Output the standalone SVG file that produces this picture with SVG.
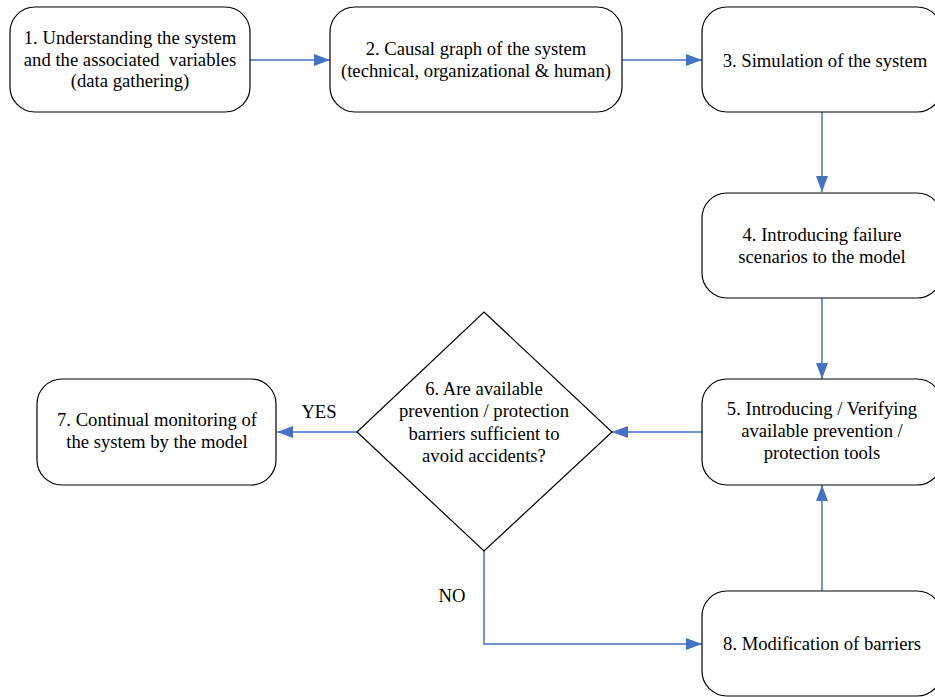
<svg xmlns="http://www.w3.org/2000/svg" width="935" height="697" viewBox="0 0 935 697">
<defs>
<style>
.box{fill:#fff;stroke:#000;stroke-width:1.2}
.t{font-family:'Liberation Serif',Tinos,'Times New Roman','DejaVu Serif',serif;font-size:18.67px;fill:#000;text-anchor:middle}
.c{fill:none;stroke:#4472C4;stroke-width:1.5}
</style>
<marker id="ah" markerUnits="userSpaceOnUse" markerWidth="17" markerHeight="12" refX="16" refY="6" orient="auto">
<path d="M0,0 L16,6 L0,12 z" fill="#4472C4"/>
</marker>
</defs>
<rect width="935" height="697" fill="#fff"/>
<g id="connectors">
<path class="c" d="M250,60 H330" marker-end="url(#ah)"/>
<path class="c" d="M622,60 H702" marker-end="url(#ah)"/>
<path class="c" d="M822,112 V192" marker-end="url(#ah)"/>
<path class="c" d="M822,298 V379" marker-end="url(#ah)"/>
<path class="c" d="M702,432 H612" marker-end="url(#ah)"/>
<path class="c" d="M357,432 H277" marker-end="url(#ah)"/>
<path class="c" d="M484,551 V644 H702" marker-end="url(#ah)"/>
<path class="c" d="M822,591 V485" marker-end="url(#ah)"/>
<text class="t" x="319" y="418">YES</text>
<text class="t" x="452" y="602">NO</text>
</g>
<g id="node1">
<rect class="box" x="10" y="7" width="240" height="105" rx="25"/>
<text class="t" x="130" y="44">1. Understanding the system</text>
<text class="t" x="130" y="66">and the associated&#160; variables</text>
<text class="t" x="130" y="87">(data gathering)</text>
</g>
<g id="node2">
<rect class="box" x="330" y="7" width="292" height="105" rx="25"/>
<text class="t" x="476" y="55">2. Causal graph of the system</text>
<text class="t" x="476" y="77">(technical, organizational &amp; human)</text>
</g>
<g id="node3">
<rect class="box" x="702" y="7" width="240" height="105" rx="25"/>
<text class="t" x="825" y="67">3. Simulation of the system</text>
</g>
<g id="node4">
<rect class="box" x="702" y="193" width="240" height="105" rx="25"/>
<text class="t" x="822" y="241">4. Introducing failure</text>
<text class="t" x="822" y="263">scenarios to the model</text>
</g>
<g id="node5">
<rect class="box" x="702" y="379" width="240" height="106" rx="25"/>
<text class="t" x="822" y="415">5. Introducing / Verifying</text>
<text class="t" x="822" y="437">available prevention /</text>
<text class="t" x="822" y="459">protection tools</text>
</g>
<g id="node6">
<path class="box" d="M484,312 L612,432 L484,551 L357,432 z"/>
<text class="t" x="484" y="395">6. Are available</text>
<text class="t" x="484" y="417">prevention / protection</text>
<text class="t" x="484" y="440">barriers sufficient to</text>
<text class="t" x="484" y="462">avoid accidents?</text>
</g>
<g id="node7">
<rect class="box" x="37" y="379" width="239" height="106" rx="25"/>
<text class="t" x="157" y="426">7. Continual monitoring of</text>
<text class="t" x="157" y="448">the system by the model</text>
</g>
<g id="node8">
<rect class="box" x="702" y="591" width="240" height="105" rx="25"/>
<text class="t" x="822" y="650">8. Modification of barriers</text>
</g>
</svg>
